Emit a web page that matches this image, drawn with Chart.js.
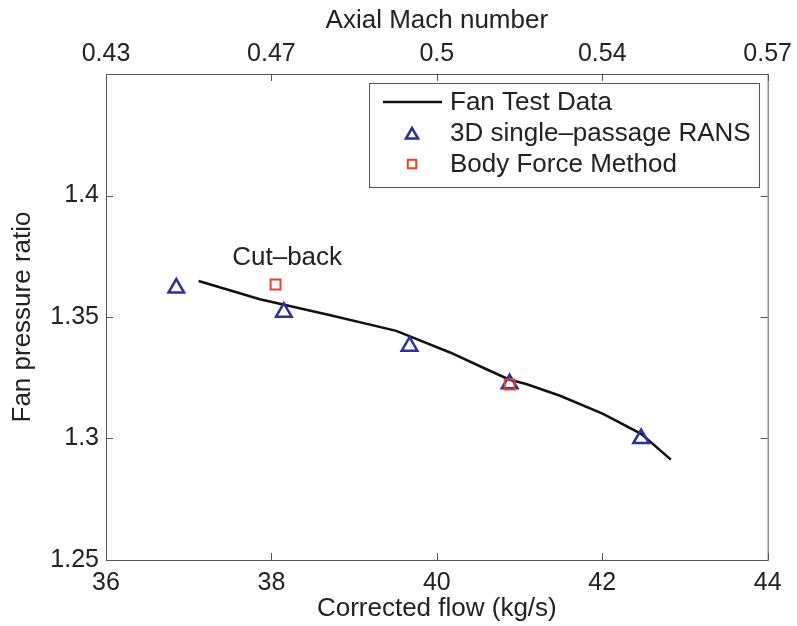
<!DOCTYPE html>
<html>
<head>
<meta charset="utf-8">
<script src="https://cdn.jsdelivr.net/npm/chart.js@4.4.1/dist/chart.umd.min.js"></script>
<style>
  html, body { margin: 0; padding: 0; background: #fff; }
  #wrap { width: 797px; height: 626px; }
</style>
</head>
<body>
<div id="wrap"><canvas id="chart" width="797" height="626"></canvas></div>
<script>
// data
const testFlow  = [37.12, 37.86, 38.7, 39.51, 40.16, 40.6, 40.88, 41.08, 41.49, 42.01, 42.47, 42.83];
const testRatio = [1.3648, 1.3573, 1.3508, 1.3443, 1.3354, 1.3285, 1.3242, 1.3224, 1.3176, 1.3101, 1.3019, 1.2913];

const ransFlow  = [36.85, 38.15, 39.67, 40.88, 42.47];
const ransRatio = [1.3619, 1.352, 1.338, 1.3225, 1.300];

const bfmFlow  = [38.05, 40.88];
const bfmRatio = [1.3634, 1.3222];

const flowTicks  = [36, 38, 40, 42, 44];
const machLabels = ['0.43', '0.47', '0.5', '0.54', '0.57'];
const ratioTicks = [1.25, 1.3, 1.35, 1.4];

const FONT = 'Liberation Sans, Arial, Helvetica, sans-serif';
const BLUE = '#2a2f9c';
const RED = '#e8432a';

const toXY = (xs, ys) => xs.map((x, i) => ({ x: x, y: ys[i] }));

// frame + inward ticks (matlab style)
const framePlugin = {
  id: 'frame',
  afterDraw(chart) {
    const { ctx, chartArea: a, scales } = chart;
    ctx.save();
    ctx.strokeStyle = '#555';
    ctx.lineWidth = 1;
    ctx.strokeRect(a.left + 0.5, a.top + 0.5, a.right - a.left, a.bottom - a.top);
    const len = 7;
    ctx.beginPath();
    flowTicks.forEach(v => {
      const px = Math.round(scales.x.getPixelForValue(v)) + 0.5;
      ctx.moveTo(px, a.bottom); ctx.lineTo(px, a.bottom - len);
      ctx.moveTo(px, a.top); ctx.lineTo(px, a.top + len);
    });
    ratioTicks.forEach(v => {
      const py = Math.round(scales.y.getPixelForValue(v)) + 0.5;
      ctx.moveTo(a.left, py); ctx.lineTo(a.left + len, py);
      ctx.moveTo(a.right, py); ctx.lineTo(a.right - len, py);
    });
    ctx.stroke();

    // annotation
    ctx.fillStyle = '#222';
    ctx.font = '26px ' + FONT;
    ctx.textAlign = 'center';
    ctx.textBaseline = 'middle';
    ctx.fillText('Cut\u2013back', scales.x.getPixelForValue(38.19), scales.y.getPixelForValue(1.3742));

    // legend box
    const bx = 369, by = 83, bw = 390, bh = 104;
    ctx.fillStyle = '#fff';
    ctx.fillRect(bx, by, bw, bh);
    ctx.strokeStyle = '#555';
    ctx.strokeRect(bx + 0.5, by + 0.5, bw, bh);
    const ds = chart.data.datasets;
    ds.forEach((d, i) => {
      const cy = by + 19 + i * 31;
      if (d.showLine) {
        ctx.strokeStyle = d.borderColor;
        ctx.lineWidth = d.borderWidth;
        ctx.beginPath();
        ctx.moveTo(383, cy); ctx.lineTo(442, cy);
        ctx.stroke();
      } else {
        ctx.fillStyle = 'rgba(0,0,0,0)';
        ctx.strokeStyle = d.borderColor;
        ctx.lineWidth = d.borderWidth;
        Chart.helpers.drawPoint(ctx, {
          pointStyle: d.pointStyle,
          radius: d.legendRadius,
          borderWidth: d.borderWidth,
          rotation: 0
        }, 412, cy + (d.pointStyle === 'triangle' ? 2 : 0));
      }
      ctx.fillStyle = '#222';
      ctx.font = '26px ' + FONT;
      ctx.textAlign = 'left';
      ctx.textBaseline = 'middle';
      ctx.fillText(d.label, 450, cy + 1);
    });
    ctx.restore();
  }
};

new Chart(document.getElementById('chart'), {
  type: 'scatter',
  data: {
    datasets: [
      {
        label: 'Fan Test Data',
        data: toXY(testFlow, testRatio),
        showLine: true,
        borderColor: '#111',
        borderWidth: 2.5,
        pointRadius: 0,
        tension: 0,
        order: 3
      },
      {
        label: '3D single\u2013passage RANS',
        data: toXY(ransFlow, ransRatio),
        pointStyle: 'triangle',
        pointRadius: 9,
        legendRadius: 7,
        borderColor: BLUE,
        backgroundColor: 'rgba(0,0,0,0)',
        borderWidth: 2.5,
        order: 2
      },
      {
        label: 'Body Force Method',
        data: toXY(bfmFlow, bfmRatio),
        pointStyle: 'rect',
        pointRadius: 7,
        legendRadius: 6,
        borderColor: RED,
        backgroundColor: 'rgba(0,0,0,0)',
        borderWidth: 2,
        order: 1
      }
    ]
  },
  options: {
    responsive: false,
    animation: false,
    layout: { padding: { left: 0, right: 29, top: 0, bottom: 0 } },
    plugins: { legend: { display: false }, tooltip: { enabled: false } },
    scales: {
      x: {
        type: 'linear', position: 'bottom', min: 36, max: 44,
        afterBuildTicks: s => { s.ticks = flowTicks.map(v => ({ value: v })); },
        afterFit: s => { s.height = 66; },
        grid: { display: false, drawTicks: false },
        border: { display: false },
        ticks: { color: '#222', font: { family: FONT, size: 25 }, padding: 8, maxRotation: 0 },
        title: { display: true, text: 'Corrected flow (kg/s)', color: '#222',
                 font: { family: FONT, size: 26 }, padding: { top: 0, bottom: 2 } }
      },
      x2: {
        type: 'linear', position: 'top', min: 36, max: 44,
        afterBuildTicks: s => { s.ticks = flowTicks.map(v => ({ value: v })); },
        afterFit: s => { s.height = 74; },
        grid: { display: false, drawTicks: false },
        border: { display: false },
        ticks: { color: '#222', font: { family: FONT, size: 25 }, padding: 5, maxRotation: 0,
                 callback: v => machLabels[flowTicks.indexOf(v)] },
        title: { display: true, text: 'Axial Mach number', color: '#222',
                 font: { family: FONT, size: 26 }, padding: { top: 5, bottom: 0 } }
      },
      y: {
        type: 'linear', position: 'left', min: 1.25, max: 1.45,
        afterBuildTicks: s => { s.ticks = ratioTicks.map(v => ({ value: v })); },
        afterFit: s => { s.width = 106; },
        grid: { display: false, drawTicks: false },
        border: { display: false },
        ticks: { color: '#222', font: { family: FONT, size: 25 }, padding: 7,
                 callback: v => String(v) },
        title: { display: true, text: 'Fan pressure ratio', color: '#222',
                 font: { family: FONT, size: 26 }, padding: { top: 7, bottom: 0 } }
      }
    }
  },
  plugins: [framePlugin]
});
</script>
</body>
</html>
